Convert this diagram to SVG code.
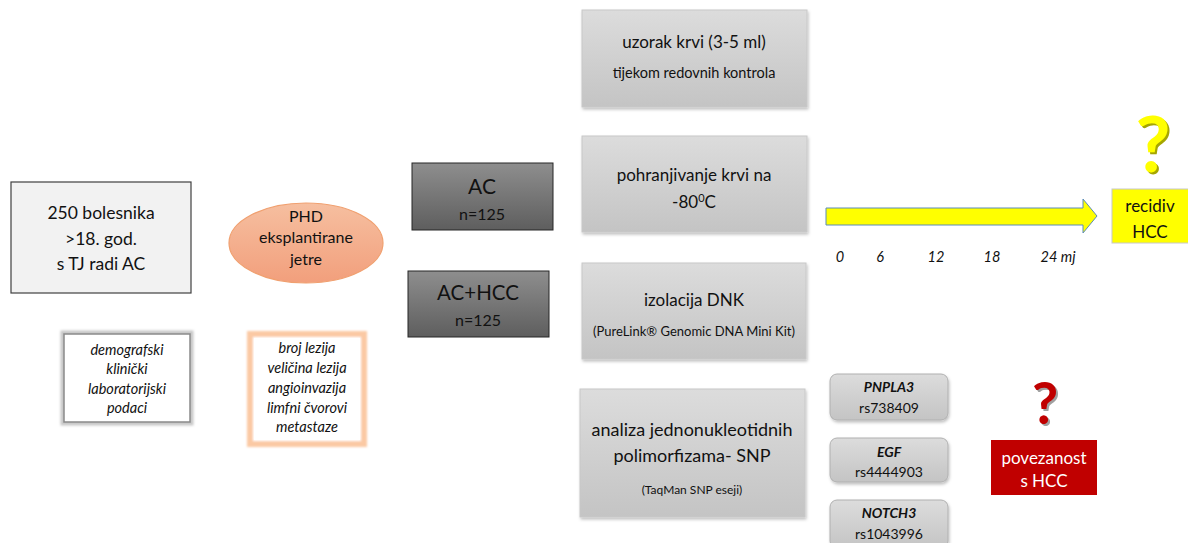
<svg xmlns="http://www.w3.org/2000/svg" width="1188" height="543" viewBox="0 0 1188 543">
<defs>
<linearGradient id="gGray" x1="0" y1="0" x2="0" y2="1">
<stop offset="0" stop-color="#dcdcdc"/><stop offset="1" stop-color="#c4c4c4"/>
</linearGradient>
<linearGradient id="gDark" x1="0" y1="0" x2="0" y2="1">
<stop offset="0" stop-color="#8e8e8e"/><stop offset="1" stop-color="#5e5e5e"/>
</linearGradient>
<linearGradient id="gOrange" x1="0" y1="0" x2="0" y2="1">
<stop offset="0" stop-color="#f6bfa0"/><stop offset="1" stop-color="#f29f7c"/>
</linearGradient>
<filter id="sh" x="-10%" y="-10%" width="130%" height="130%">
<feDropShadow dx="1" dy="2" stdDeviation="1.5" flood-color="#000" flood-opacity="0.25"/>
</filter>
<filter id="blur1" x="-10%" y="-10%" width="120%" height="120%">
<feGaussianBlur stdDeviation="1.2"/>
</filter>
</defs>
<style>
text{font-family:Lato,"Open Sans","Liberation Sans",sans-serif;text-anchor:middle;fill:#111111}
.gbox{fill:url(#gGray);stroke:#c8c8c8;stroke-width:1}
.dbox{fill:url(#gDark);stroke:#262626;stroke-width:1}
.gene{fill:url(#gGray);stroke:#b0b0b0;stroke-width:1}
.it{font-style:italic}
.bi{font-style:italic;font-weight:bold}
.t17{font-size:17px}
.t14{font-size:14px}
</style>

<g id="connectors">
<path id="timeline-arrow" d="M826,208 H1083 V199 L1097,216 L1083,233 V225 H826 Z" fill="#ffff00" stroke="#5b8bb8" stroke-width="1"/>
</g>

<g id="node-bolesnika">
<rect x="11" y="182" width="180" height="111" fill="#f2f2f2" stroke="#404040" stroke-width="1.2"/>
<text x="101" y="219" font-size="17.5">250 bolesnika</text>
<text x="101" y="245" font-size="17.5">&gt;18. god.</text>
<text x="101" y="270" font-size="17.5">s TJ radi AC</text>
</g>

<g id="node-phd">
<ellipse cx="306" cy="243" rx="77" ry="40" fill="url(#gOrange)" stroke="#f0a070" stroke-width="1.2"/>
<text x="306" y="222" font-size="16">PHD</text>
<text x="306" y="243" font-size="16">eksplantirane</text>
<text x="306" y="265" font-size="16">jetre</text>
</g>

<g id="node-demografski">
<rect x="63" y="333" width="128" height="90" fill="none" stroke="#c8c8c8" stroke-width="5" filter="url(#blur1)"/>
<rect x="64" y="334" width="126" height="88" fill="#ffffff" stroke="#8a8a8a" stroke-width="1.5"/>
<text class="it" x="127" y="355" font-size="14.5">demografski</text>
<text class="it" x="127" y="374" font-size="14.5">klinički</text>
<text class="it" x="127" y="394" font-size="14.5">laboratorijski</text>
<text class="it" x="127" y="413" font-size="14.5">podaci</text>
</g>

<g id="node-lezije">
<rect x="250" y="334" width="114" height="110" fill="#ffffff" stroke="#fbc9a4" stroke-width="6" filter="url(#blur1)"/>
<rect x="254" y="338" width="106" height="102" fill="#ffffff"/>
<text class="it" x="307" y="353" font-size="14.5">broj lezija</text>
<text class="it" x="307" y="373" font-size="14.5">veličina lezija</text>
<text class="it" x="307" y="393" font-size="14.5">angioinvazija</text>
<text class="it" x="307" y="413" font-size="14.5">limfni čvorovi</text>
<text class="it" x="307" y="432" font-size="14.5">metastaze</text>
</g>

<g id="node-ac">
<rect class="dbox" x="412" y="163" width="141" height="67"/>
<text x="482" y="194" font-size="21">AC</text>
<text x="482" y="220" font-size="16">n=125</text>
</g>

<g id="node-achcc">
<rect class="dbox" x="408" y="271" width="141" height="66"/>
<text x="478" y="300" font-size="20.5">AC+HCC</text>
<text x="478" y="326" font-size="16">n=125</text>
</g>

<g id="node-uzorak">
<rect class="gbox" x="582" y="10" width="225" height="97" filter="url(#sh)"/>
<text class="t17" x="694" y="48">uzorak krvi (3-5 ml)</text>
<text x="694" y="78" font-size="14.5">tijekom redovnih kontrola</text>
</g>

<g id="node-pohranjivanje">
<rect class="gbox" x="582" y="136" width="225" height="96" filter="url(#sh)"/>
<text class="t17" x="694" y="181">pohranjivanje krvi na</text>
<text class="t17" x="694" y="208">-80<tspan font-size="11" dy="-6">0</tspan><tspan dy="6">C</tspan></text>
</g>

<g id="node-izolacija">
<rect class="gbox" x="582" y="263" width="224" height="96" filter="url(#sh)"/>
<text class="t17" x="694" y="306">izolacija DNK</text>
<text x="694" y="336" font-size="13">(PureLink® Genomic DNA Mini Kit)</text>
</g>

<g id="node-analiza">
<rect class="gbox" x="580" y="389" width="225" height="128" filter="url(#sh)"/>
<text x="692" y="436" font-size="18">analiza jednonukleotidnih</text>
<text x="692" y="462" font-size="18">polimorfizama- SNP</text>
<text x="692" y="494" font-size="12">(TaqMan SNP eseji)</text>
</g>

<g id="node-pnpla3">
<rect class="gene" x="830" y="374" width="118" height="46" rx="7" filter="url(#sh)"/>
<text class="bi t14" x="889" y="392">PNPLA3</text>
<text class="t14" x="889" y="413">rs738409</text>
</g>

<g id="node-egf">
<rect class="gene" x="830" y="438" width="118" height="44" rx="7" filter="url(#sh)"/>
<text class="bi t14" x="889" y="457">EGF</text>
<text class="t14" x="889" y="477">rs4444903</text>
</g>

<g id="node-notch3">
<rect class="gene" x="830" y="500" width="118" height="48" rx="7" filter="url(#sh)"/>
<text class="bi t14" x="889" y="518">NOTCH3</text>
<text class="t14" x="889" y="539">rs1043996</text>
</g>

<g id="node-povezanost">
<text x="1047" y="426" font-size="57" font-weight="bold" style="fill:#a0a0a0">?</text>
<text x="1045" y="424" font-size="57" font-weight="bold" style="fill:#c00000">?</text>
<rect x="991" y="440" width="106" height="55" fill="#c00000"/>
<text x="1044" y="464" font-size="17" style="fill:#ffffff">povezanost</text>
<text x="1044" y="487" font-size="17" style="fill:#ffffff">s HCC</text>
</g>

<g id="node-recidiv">
<text x="1155" y="174" font-size="76" font-weight="bold" style="fill:#a6a600">?</text>
<text x="1153" y="172" font-size="76" font-weight="bold" style="fill:#ffff00">?</text>
<rect x="1112" y="189" width="78" height="54" fill="#ffff00" stroke="#c8c8c8" stroke-width="1"/>
<text x="1150" y="212" font-size="17">recidiv</text>
<text x="1150" y="238" font-size="17">HCC</text>
</g>

<g id="timeline-labels">
<text class="it" x="840" y="262" font-size="14.5">0</text>
<text class="it" x="880" y="262" font-size="14.5">6</text>
<text class="it" x="936" y="262" font-size="14.5">12</text>
<text class="it" x="992" y="262" font-size="14.5">18</text>
<text class="it" x="1058" y="262" font-size="14.5">24 mj</text>
</g>
</svg>
